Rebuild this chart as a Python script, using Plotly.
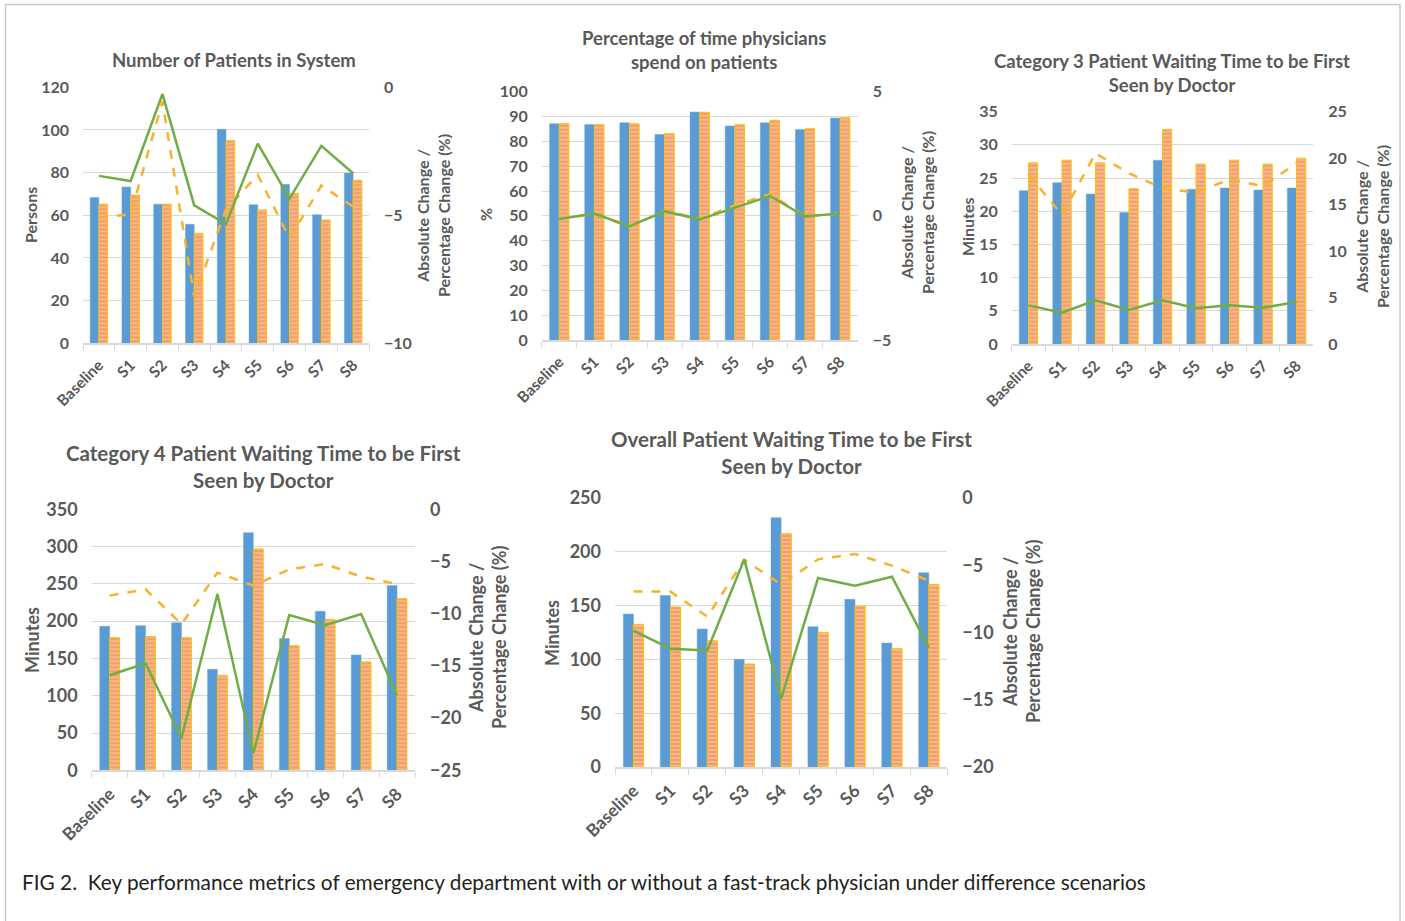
import plotly.graph_objects as go

W, H = 1405, 921

categories = ["Baseline", "S1", "S2", "S3", "S4", "S5", "S6", "S7", "S8"]

# Chart 1: Number of Patients in System
patients_without = [68.4, 73.3, 65.2, 55.8, 100.3, 65.0, 74.5, 60.3, 79.8]
patients_with = [65.2, 69.5, 65.2, 51.6, 95.0, 62.5, 70.3, 57.8, 76.4]
patients_abs = [-3.46, -3.66, -0.26, -4.61, -5.34, -2.20, -4.35, -2.29, -3.36]
patients_pct = [-5.09, -4.96, -0.56, -8.18, -4.77, -3.42, -5.90, -3.84, -4.66]

# Chart 2: Percentage of time physicians spend on patients
phys_without = [87.1, 86.8, 87.5, 82.8, 91.8, 86.2, 87.5, 84.8, 89.4]
phys_with = [87.1, 86.7, 87.1, 83.1, 91.7, 86.7, 88.5, 85.1, 89.5]
phys_abs = [-0.13, 0.09, -0.42, 0.18, -0.14, 0.33, 0.80, -0.03, 0.10]
phys_pct = [-0.12, 0.08, -0.45, 0.20, -0.12, 0.42, 0.88, -0.02, 0.10]

# Chart 3: Category 3 waiting time
cat3_without = [23.1, 24.3, 22.6, 19.8, 27.7, 23.3, 23.5, 23.2, 23.5]
cat3_with = [27.3, 27.7, 27.3, 23.4, 32.3, 27.1, 27.7, 27.1, 28.0]
cat3_abs = [4.16, 3.37, 4.70, 3.66, 4.70, 3.84, 4.16, 3.91, 4.52]
cat3_pct = [18.26, 13.88, 20.52, 18.36, 16.79, 16.28, 17.72, 17.00, 19.44]

# Chart 4: Category 4 waiting time
cat4_without = [193.1, 194.0, 198.0, 135.4, 318.7, 176.6, 213.2, 154.7, 247.7]
cat4_with = [177.9, 179.3, 177.9, 127.4, 296.8, 167.2, 202.1, 145.3, 230.2]
cat4_abs = [-15.9, -14.75, -21.93, -8.11, -23.37, -10.12, -11.11, -10.03, -17.82]
cat4_pct = [-8.27, -7.66, -11.0, -6.07, -7.31, -5.75, -5.24, -6.45, -7.15]

# Chart 5: Overall waiting time
overall_without = [142.2, 159.5, 128.3, 100.1, 231.7, 130.4, 155.8, 115.2, 180.6]
overall_with = [132.6, 148.7, 117.4, 95.7, 216.8, 125.2, 149.6, 110.0, 169.8]
overall_abs = [-9.86, -11.2, -11.33, -4.56, -14.92, -5.95, -6.52, -5.85, -11.13]
overall_pct = [-6.96, -6.96, -8.82, -4.61, -6.42, -4.56, -4.16, -5.03, -6.15]

titles = [
    "Number of Patients in System",
    "Percentage of time physicians<br>spend on patients",
    "Category 3 Patient Waiting Time to be First<br>Seen by Doctor",
    "Category 4 Patient Waiting Time to be First<br>Seen by Doctor",
    "Overall Patient Waiting Time to be First<br>Seen by Doctor",
]
left_titles = ["Persons", "%", "Minutes", "Minutes", "Minutes"]
right_title = "Absolute Change /<br>Percentage Change (%)"
caption = "FIG 2.  Key performance metrics of emergency department with or without a fast-track physician under difference scenarios"

BLUE = "#5B9BD5"
ORANGE = "#ED7D31"
PEACH = "#F6BE9A"
GOLD = "#F7B32B"
GREEN = "#70AD47"
GRAY = "#595959"
GRID = "#D9D9D9"
FONT = "Lato"

charts = [
    dict(wo=patients_without, wi=patients_with, ab=patients_abs, pc=patients_pct,
         px=(83, 369), py=(87.3, 343.3), lr=[0, 120], ld=20, rr=[-10, 0], rd=5,
         fs=16, ts=18.5, tpos=(234, 60), ltpos=(30, 215), rtpos=(433, 215)),
    dict(wo=phys_without, wi=phys_with, ab=phys_abs, pc=phys_pct,
         px=(541.7, 857.7), py=(91.7, 340), lr=[0, 100], ld=10, rr=[-5, 5], rd=5,
         fs=16, ts=18.5, tpos=(704, 50), ltpos=(485, 215), rtpos=(917, 213)),
    dict(wo=cat3_without, wi=cat3_with, ab=cat3_abs, pc=cat3_pct,
         px=(1011.7, 1313.3), py=(111.7, 344), lr=[0, 35], ld=5, rr=[0, 25], rd=5,
         fs=16, ts=18.5, tpos=(1172, 73), ltpos=(967, 227), rtpos=(1372, 227)),
    dict(wo=cat4_without, wi=cat4_with, ab=cat4_abs, pc=cat4_pct,
         px=(91.7, 415), py=(509.3, 770.3), lr=[0, 350], ld=50, rr=[-25, 0], rd=5,
         fs=18, ts=20.5, tpos=(263, 466), ltpos=(32, 640), rtpos=(487, 638)),
    dict(wo=overall_without, wi=overall_with, ab=overall_abs, pc=overall_pct,
         px=(615, 947.3), py=(498, 767), lr=[0, 250], ld=50, rr=[-20, 0], rd=5,
         fs=18, ts=20.5, tpos=(791, 452), ltpos=(552, 633), rtpos=(1021, 632)),
]

fig = go.Figure()
layout = {}
annotations = []

for i, c in enumerate(charts, start=1):
    xa = "x" if i == 1 else f"x{i}"
    yl_n = 2 * i - 1
    yr_n = 2 * i
    yl = "y" if yl_n == 1 else f"y{yl_n}"
    yr = f"y{yr_n}"
    xkey = "xaxis" if i == 1 else f"xaxis{i}"
    ylkey = "yaxis" if yl_n == 1 else f"yaxis{yl_n}"
    yrkey = f"yaxis{yr_n}"
    x0, x1 = c["px"][0] / W, c["px"][1] / W
    y0, y1 = 1 - c["py"][1] / H, 1 - c["py"][0] / H

    fig.add_trace(go.Bar(x=categories, y=c["wo"], xaxis=xa, yaxis=yl,
                         marker=dict(color=BLUE, line=dict(color="#6FA8DC", width=0.5)),
                         offsetgroup=f"a{i}", showlegend=False))
    fig.add_trace(go.Bar(x=categories, y=c["wi"], xaxis=xa, yaxis=yl,
                         marker=dict(color=PEACH, line=dict(color="#FFC000", width=1),
                                     pattern=dict(shape="-", fgcolor=ORANGE, bgcolor=PEACH,
                                                  size=4, solidity=0.6, fillmode="overlay")),
                         offsetgroup=f"b{i}", showlegend=False))
    fig.add_trace(go.Scatter(x=categories, y=c["pc"], xaxis=xa, yaxis=yr, mode="lines",
                             line=dict(color=GOLD, width=2.5, dash="dash"), showlegend=False))
    fig.add_trace(go.Scatter(x=categories, y=c["ab"], xaxis=xa, yaxis=yr, mode="lines",
                             line=dict(color=GREEN, width=2.5), showlegend=False))

    tickfont = dict(family=FONT, size=c["fs"], color=GRAY, weight="bold")
    layout[xkey] = dict(domain=[x0, x1], anchor=yl, type="category", automargin=False,
                        showline=True, linecolor=GRID, linewidth=1.5,
                        ticks="outside", tickson="boundaries", ticklen=6, tickcolor=GRID,
                        tickangle=-45, ticklabelstandoff=5,
                        tickfont=dict(family=FONT, size=c["fs"] - 0.5, color=GRAY, weight="bold"),
                        showgrid=False, fixedrange=True)
    layout[ylkey] = dict(domain=[y0, y1], anchor=xa, range=c["lr"], dtick=c["ld"], automargin=False,
                         showgrid=True, gridcolor=GRID, gridwidth=1, zeroline=False,
                         showline=False, ticks="", tickfont=tickfont, ticklabelstandoff=13)
    layout[yrkey] = dict(domain=[y0, y1], anchor=xa, overlaying=yl, side="right", automargin=False,
                         range=c["rr"], dtick=c["rd"], showgrid=False, zeroline=False,
                         showline=False, ticks="", tickfont=tickfont, ticklabelstandoff=14)

    annotations.append(dict(text=titles[i - 1], x=c["tpos"][0] / W, y=1 - c["tpos"][1] / H,
                            xref="paper", yref="paper", showarrow=False,
                            xanchor="center", yanchor="middle",
                            font=dict(family=FONT, size=c["ts"], color=GRAY, weight="bold")))
    annotations.append(dict(text=left_titles[i - 1], x=c["ltpos"][0] / W, y=1 - c["ltpos"][1] / H,
                            xref="paper", yref="paper", showarrow=False, textangle=-90,
                            xanchor="center", yanchor="middle",
                            font=dict(family=FONT, size=c["fs"], color=GRAY, weight="bold")))
    annotations.append(dict(text=right_title, x=c["rtpos"][0] / W, y=1 - c["rtpos"][1] / H,
                            xref="paper", yref="paper", showarrow=False, textangle=-90,
                            xanchor="center", yanchor="middle",
                            font=dict(family=FONT, size=c["fs"], color=GRAY, weight="bold")))

annotations.append(dict(text=caption, x=20 / W, y=1 - 881 / H, xref="paper", yref="paper",
                        showarrow=False, xanchor="left", yanchor="middle",
                        font=dict(family=FONT, size=20.8, color="#231F20")))

fig.update_layout(
    width=W, height=H, margin=dict(l=0, r=0, t=0, b=0, autoexpand=False),
    paper_bgcolor="white", plot_bgcolor="rgba(0,0,0,0)",
    barmode="group", bargap=0.45, bargroupgap=0.0,
    annotations=annotations,
    shapes=[dict(type="rect", xref="paper", yref="paper",
                 x0=5.5 / W, x1=1400 / W, y0=-0.02, y1=1 - 4.5 / H,
                 line=dict(color="#C8C8C8", width=1.5), fillcolor="rgba(0,0,0,0)")],
    **layout,
)

fig.write_html("out.html",
               config={"displayModeBar": False},
               post_script="document.body.style.margin='0';document.body.style.overflow='hidden';")
